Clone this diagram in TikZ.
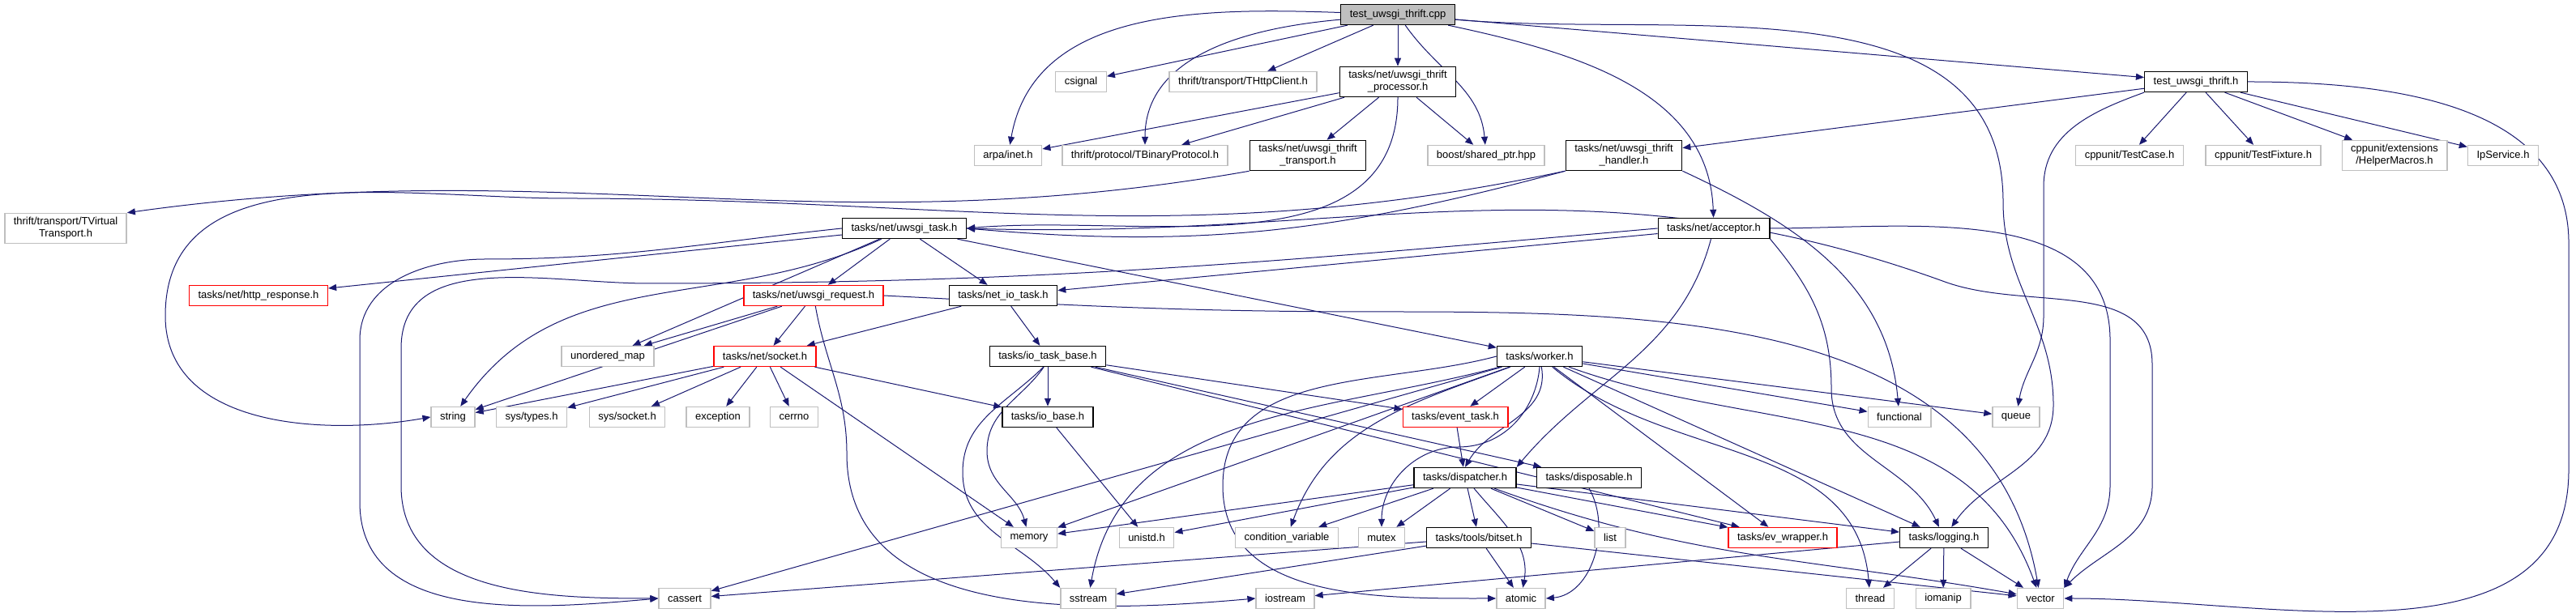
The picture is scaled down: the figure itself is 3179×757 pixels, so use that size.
\documentclass[tikz,border=0pt]{standalone}
\usepackage{fontspec}
\setmainfont{Liberation Sans}
\usetikzlibrary{arrows.meta,backgrounds}
\definecolor{edgeblue}{HTML}{191970}
\definecolor{extgray}{HTML}{BFBFBF}
\definecolor{truncred}{HTML}{FF0000}
\begin{document}
\begin{tikzpicture}[x=0.1pt, y=0.1pt,
    hdr/.style={draw=black, line width=0.14pt, fill=white, minimum height=2.5pt,
      inner xsep=1.1pt, inner ysep=0.5pt, align=center, font=\fontsize{1.3}{1.5}\selectfont},
    sys/.style={hdr, draw=extgray},
    trunc/.style={hdr, draw=truncred},
    root/.style={hdr, fill=extgray},
    dep/.style={draw=edgeblue, line width=0.1pt, -{Triangle[length=1pt,width=0.8pt]}}]
   \path[use as bounding box] (0,0) rectangle (3179,-757);
   % row 1 - 2
   \node[root] (cpp) at (1725,-18) {test\_uwsgi\_thrift.cpp};
   \node[sys] (csignal) at (1334,-101) {csignal};
   \node[sys] (httpclient) at (1534,-101) {thrift/transport/THttpClient.h};
   \node[hdr] (processor) at (1725,-101) {tasks/net/uwsgi\_thrift\\\_processor.h};
   \node[hdr] (testh) at (2710,-101) {test\_uwsgi\_thrift.h};
   % row 3
   \node[sys] (inet) at (1244,-192) {arpa/inet.h};
   \node[sys] (binproto) at (1413,-192) {thrift/protocol/TBinaryProtocol.h};
   \node[hdr] (transport) at (1614,-192) {tasks/net/uwsgi\_thrift\\\_transport.h};
   \node[sys] (sharedptr) at (1834,-192) {boost/shared\_ptr.hpp};
   \node[hdr] (handler) at (2004,-192) {tasks/net/uwsgi\_thrift\\\_handler.h};
   \node[sys] (testcase) at (2628,-192) {cppunit/TestCase.h};
   \node[sys] (fixture) at (2793,-192) {cppunit/TestFixture.h};
   \node[sys] (helper) at (2955,-192) {cppunit/extensions\\/HelperMacros.h};
   \node[sys] (ipservice) at (3089,-192) {IpService.h};
   % row 4 - 5
   \node[sys] (vtransport) at (81,-282) {thrift/transport/TVirtual\\Transport.h};
   \node[hdr] (uwsgitask) at (1116,-282) {tasks/net/uwsgi\_task.h};
   \node[hdr] (acceptor) at (2115,-282) {tasks/net/acceptor.h};
   \node[trunc] (httpresp) at (319,-365) {tasks/net/http\_response.h};
   \node[trunc] (request) at (1004,-365) {tasks/net/uwsgi\_request.h};
   \node[hdr] (netio) at (1238,-365) {tasks/net\_io\_task.h};
   % row 6
   \node[sys] (umap) at (750,-440) {unordered\_map};
   \node[trunc] (socket) at (944,-440) {tasks/net/socket.h};
   \node[hdr] (iotaskbase) at (1293,-440) {tasks/io\_task\_base.h};
   \node[hdr] (worker) at (1900,-440) {tasks/worker.h};
   % row 7
   \node[sys] (string) at (559,-515) {string};
   \node[sys] (systypes) at (656,-515) {sys/types.h};
   \node[sys] (syssocket) at (774,-515) {sys/socket.h};
   \node[sys] (exception) at (886,-515) {exception};
   \node[sys] (cerrno) at (980,-515) {cerrno};
   \node[hdr] (iobase) at (1293,-515) {tasks/io\_base.h};
   \node[trunc] (eventtask) at (1796,-515) {tasks/event\_task.h};
   \node[sys] (functional) at (2344,-515) {functional};
   \node[sys] (queue) at (2488,-515) {queue};
   % row 8
   \node[hdr] (dispatcher) at (1808,-590) {tasks/dispatcher.h};
   \node[hdr] (disposable) at (1961,-590) {tasks/disposable.h};
   % row 9
   \node[sys] (memory) at (1270,-664) {memory};
   \node[sys] (unistd) at (1415,-664) {unistd.h};
   \node[sys] (condvar) at (1588,-664) {condition\_variable};
   \node[sys] (mutex) at (1705,-664) {mutex};
   \node[hdr] (bitset) at (1825,-664) {tasks/tools/bitset.h};
   \node[sys] (list) at (1987,-664) {list};
   \node[trunc] (evwrapper) at (2200,-664) {tasks/ev\_wrapper.h};
   \node[hdr] (logging) at (2399,-664) {tasks/logging.h};
   % row 10
   \node[sys] (cassert) at (845,-739) {cassert};
   \node[sys] (sstream) at (1343,-739) {sstream};
   \node[sys] (iostream) at (1586,-739) {iostream};
   \node[sys] (atomic) at (1877,-739) {atomic};
   \node[sys] (thread) at (2308,-739) {thread};
   \node[sys] (iomanip) at (2398,-739) {iomanip};
   \node[sys] (vector) at (2518,-739) {vector};

   \begin{scope}[on background layer]
   \foreach \a/\b in {cpp/csignal, cpp/httpclient, cpp/processor, cpp/testh,
       processor/inet, processor/binproto, processor/transport, processor/sharedptr,
       testh/handler, testh/testcase, testh/fixture, testh/helper, testh/ipservice,
       uwsgitask/httpresp, uwsgitask/request, uwsgitask/netio, uwsgitask/worker, uwsgitask/umap,
       acceptor/netio, request/umap, request/string, request/socket,
       netio/socket, netio/iotaskbase,
       socket/string, socket/systypes, socket/syssocket, socket/exception, socket/cerrno,
       socket/iobase, socket/memory,
       iotaskbase/iobase, iotaskbase/eventtask, iotaskbase/disposable, iotaskbase/evwrapper,
       iobase/unistd,
       worker/eventtask, worker/functional, worker/queue, worker/logging, worker/evwrapper,
       worker/cassert, worker/memory,
       eventtask/dispatcher,
       dispatcher/memory, dispatcher/unistd, dispatcher/condvar, dispatcher/mutex,
       dispatcher/bitset, dispatcher/list, dispatcher/evwrapper, dispatcher/logging,
       bitset/cassert, bitset/sstream, bitset/atomic, bitset/vector,
       logging/iostream, logging/thread, logging/iomanip, logging/vector}
     \draw[dep] (\a) -- (\b);
   \draw[dep] (cpp) to[out=178,in=80] (inet);
   \draw[dep] (cpp) to[out=185,in=90] (binproto);
   \draw[dep] (cpp) to[out=-55,in=95] (sharedptr);
   \draw[dep] (cpp) to[out=-12,in=92] (acceptor);
   \draw[dep] (cpp) to[out=-5,in=90] (2472,-250) to[out=-90,in=90] (2534,-500)
     to[out=-90,in=55] (logging);
   \draw[dep] (processor.south) to[out=-90,in=5] (uwsgitask.east);
   \draw[dep] (transport.south west) to[out=190,in=8] (vtransport.north east);
   \draw[dep] (handler.south west) to[out=195,in=-5] (uwsgitask.east);
   \draw[dep] (handler.south west) to[out=192,in=0] (700,-245) to[out=180,in=90] (204,-390)
     to[out=-90,in=190] (string.west);
   \draw[dep] (handler.south east) to[out=-25,in=95] (functional);
   \draw[dep] (testh.south west) to[out=200,in=90] (2522,-230) -- (2522,-390)
     to[out=-90,in=80] (queue);
   \draw[dep] (testh.east) to[out=0,in=90] (3170,-300) -- (3170,-580)
     to[out=-90,in=0] (vector.east);
   \draw[dep] (uwsgitask) to[out=205,in=55] (string);
   \draw[dep] (uwsgitask.west) to[out=186,in=0] (600,-320) to[out=180,in=90] (444,-420)
     -- (444,-620) to[out=-90,in=185] (cassert.west);
   \draw[dep] (acceptor.west) to[out=185,in=0] (800,-350) to[out=180,in=90] (495,-430)
     -- (495,-600) to[out=-90,in=180] (cassert.west);
   \draw[dep] (uwsgitask.east) to[out=-2,in=160] (2400,-348) to[out=-20,in=90] (2656,-450)
     -- (2656,-600) to[out=-90,in=45] (vector.north east);
   \draw[dep] (acceptor.east) to[out=0,in=90] (2604,-420) -- (2604,-600)
     to[out=-90,in=70] (vector.north east);
   \draw[dep] (acceptor) to[out=-105,in=50] (dispatcher.north east);
   \draw[dep] (acceptor.south east) to[out=-50,in=90] (2260,-480) to[out=-90,in=115] (logging);
   \draw[dep] (request) to[out=-80,in=90] (1045,-560) to[out=-90,in=185] (iostream.west);
   \draw[dep] (request.east) to[out=-3,in=180] (1700,-385) to[out=0,in=100] (vector);
   \draw[dep] (iotaskbase.-110) to[out=-125,in=90] (1218,-557) to[out=-90,in=105] (memory);
   \draw[dep] (iotaskbase.-112) to[out=-135,in=90] (1188,-583) to[out=-90,in=130] (sstream.north west);
   \draw[dep] (worker) to[out=-80,in=60] (dispatcher.north);
   \draw[dep] (worker.south) to[out=-95,in=0] (1800,-552) to[out=180,in=90] (mutex.north);
   \draw[dep] (worker) to[out=200,in=70] (condvar);
   \draw[dep] (worker) to[out=195,in=80] (sstream);
   \draw[dep] (worker.west) to[out=195,in=90] (1509,-600) to[out=-90,in=180] (atomic.west);
   \draw[dep] (worker) to[out=-40,in=95] (thread);
   \draw[dep] (worker) to[out=-20,in=110] (vector);
   \draw[dep] (disposable.south) to[out=-60,in=5] (atomic.east);
   \draw[dep] (dispatcher) to[out=-50,in=80] (atomic);
   \draw[dep] (dispatcher) to[out=-20,in=170] (vector);
   \end{scope}
\end{tikzpicture}
\end{document}
